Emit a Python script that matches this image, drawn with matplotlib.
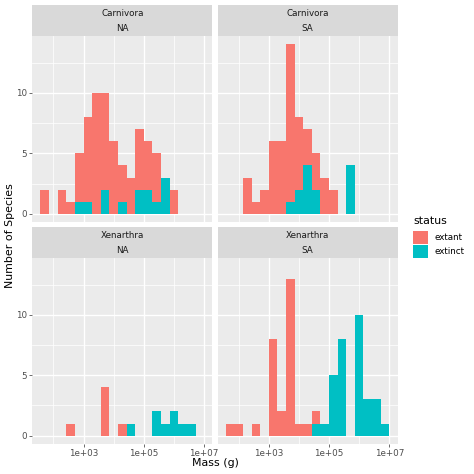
import numpy as np
import matplotlib.pyplot as plt
from matplotlib.patches import Patch
from matplotlib.ticker import FixedLocator, NullFormatter

# ----------------------------------------------------------------------
# Data: species counts per log10(mass) bin
# ----------------------------------------------------------------------
bin_start = 1 + 4 / 7      # log10(g), left edge of first bin
bin_width = 2 / 7
n_bins = 19

carnivora_na_extant = [2, 0, 2, 1, 4, 7, 10, 8, 6, 3, 3, 5, 4, 4, 0, 2, 0, 0, 0]
carnivora_na_extinct = [0, 0, 0, 0, 1, 1, 0, 2, 0, 1, 0, 2, 2, 1, 3, 0, 0, 0, 0]
carnivora_sa_extant = [0, 0, 3, 1, 2, 6, 6, 13, 6, 3, 3, 3, 2, 0, 0, 0, 0, 0, 0]
carnivora_sa_extinct = [0, 0, 0, 0, 0, 0, 0, 1, 2, 4, 2, 0, 0, 0, 4, 0, 0, 0, 0]
xenarthra_na_extant = [0, 0, 0, 1, 0, 0, 0, 4, 0, 1, 0, 0, 0, 0, 0, 0, 0, 0, 0]
xenarthra_na_extinct = [0, 0, 0, 0, 0, 0, 0, 0, 0, 0, 1, 0, 0, 2, 1, 2, 1, 1, 0]
xenarthra_sa_extant = [1, 1, 0, 1, 0, 8, 2, 13, 1, 1, 1, 0, 0, 0, 0, 0, 0, 0, 0]
xenarthra_sa_extinct = [0, 0, 0, 0, 0, 0, 0, 0, 0, 0, 1, 1, 5, 8, 0, 10, 3, 3, 1]

status_labels = ["extant", "extinct"]
x_ticks = [1e3, 1e5, 1e7]
x_tick_labels = ["1e+03", "1e+05", "1e+07"]
y_ticks = [0, 5, 10]

COLORS = {"extant": "#F8766D", "extinct": "#00BFC4"}
W = H = 474


def fig_rect(x0, y0, x1, y1):
    # pixel box (top-left origin) -> figure fraction rect
    return [x0 / W, 1 - y1 / H, (x1 - x0) / W, (y1 - y0) / H]


def draw_panel(ax, extant, extinct, show_x, show_y):
    edges = bin_start + bin_width * np.arange(n_bins + 1)
    left = 10 ** edges[:-1]
    widths = 10 ** edges[1:] - left
    extant = np.array(extant)
    extinct = np.array(extinct)
    ax.bar(left, extinct, width=widths, align="edge", color=COLORS["extinct"], linewidth=0)
    ax.bar(left, extant, width=widths, bottom=extinct, align="edge",
           color=COLORS["extant"], linewidth=0)

    ax.set_xscale("log")
    span = n_bins * bin_width
    ax.set_xlim(10 ** (bin_start - 0.05 * span), 10 ** (bin_start + 1.05 * span))
    ax.set_ylim(-0.7, 14.7)

    ax.set_facecolor("#EBEBEB")
    for s in ax.spines.values():
        s.set_visible(False)
    ax.set_axisbelow(True)

    ax.xaxis.set_major_locator(FixedLocator(x_ticks))
    ax.xaxis.set_minor_locator(FixedLocator([1e2, 1e4, 1e6]))
    ax.xaxis.set_minor_formatter(NullFormatter())
    ax.set_xticklabels(x_tick_labels)
    ax.yaxis.set_major_locator(FixedLocator(y_ticks))
    ax.yaxis.set_minor_locator(FixedLocator([2.5, 7.5, 12.5]))

    ax.grid(which="major", color="white", linewidth=1.4)
    ax.grid(which="minor", color="white", linewidth=0.7)
    ax.tick_params(which="minor", length=0)
    ax.tick_params(which="major", length=2.75, width=0.7, color="#333333",
                   labelcolor="#4D4D4D", labelsize=8.8, pad=2.2)
    if not show_x:
        ax.tick_params(axis="x", which="major", length=0, labelbottom=False)
    if not show_y:
        ax.tick_params(axis="y", which="major", length=0, labelleft=False)


def draw_strip(fig, rect, line1, line2):
    sax = fig.add_axes(rect)
    sax.set_facecolor("#D9D9D9")
    sax.set_xticks([])
    sax.set_yticks([])
    for s in sax.spines.values():
        s.set_visible(False)
    sax.text(0.5, 0.74, line1, ha="center", va="center", fontsize=8.8, color="#1A1A1A",
             transform=sax.transAxes)
    sax.text(0.5, 0.24, line2, ha="center", va="center", fontsize=8.8, color="#1A1A1A",
             transform=sax.transAxes)


# ----------------------------------------------------------------------
# Layout (pixel positions, 72 dpi so 1 pt = 1 px)
# ----------------------------------------------------------------------
fig = plt.figure(figsize=(W / 72, H / 72), dpi=72)

cols = [(32.3, 212.3), (217.5, 397.5)]
rows = [(5, 36, 222.3), (227.3, 258.3, 444)]   # strip top, panel top, panel bottom

panels = [
    ("Carnivora", "NA", carnivora_na_extant, carnivora_na_extinct, 0, 0),
    ("Carnivora", "SA", carnivora_sa_extant, carnivora_sa_extinct, 0, 1),
    ("Xenarthra", "NA", xenarthra_na_extant, xenarthra_na_extinct, 1, 0),
    ("Xenarthra", "SA", xenarthra_sa_extant, xenarthra_sa_extinct, 1, 1),
]

for order, cont, ext, extinct, r, c in panels:
    x0, x1 = cols[c]
    s0, p0, p1 = rows[r]
    ax = fig.add_axes(fig_rect(x0, p0, x1, p1))
    draw_panel(ax, ext, extinct, show_x=(r == 1), show_y=(c == 0))
    draw_strip(fig, fig_rect(x0, s0, x1, p0), order, cont)

fig.text(215 / W, 1 - 462.5 / H, "Mass (g)", ha="center", va="center", fontsize=11)
fig.text(10 / W, 1 - 236 / H, "Number of Species", ha="center", va="center",
         rotation=90, fontsize=11)

handles = [Patch(facecolor=COLORS[s], edgecolor="none") for s in status_labels]
fig.legend(handles, status_labels, title="status", loc="upper left",
           bbox_to_anchor=(413 / W, 1 - 216 / H), frameon=False, fontsize=8.8,
           title_fontsize=11, handlelength=1.75, handleheight=1.9,
           handletextpad=0.65, labelspacing=0.1, borderpad=0, borderaxespad=0,
           alignment="left")
fig.legends[0]._legend_box.sep = 5

plt.savefig("out.png", dpi=72)
